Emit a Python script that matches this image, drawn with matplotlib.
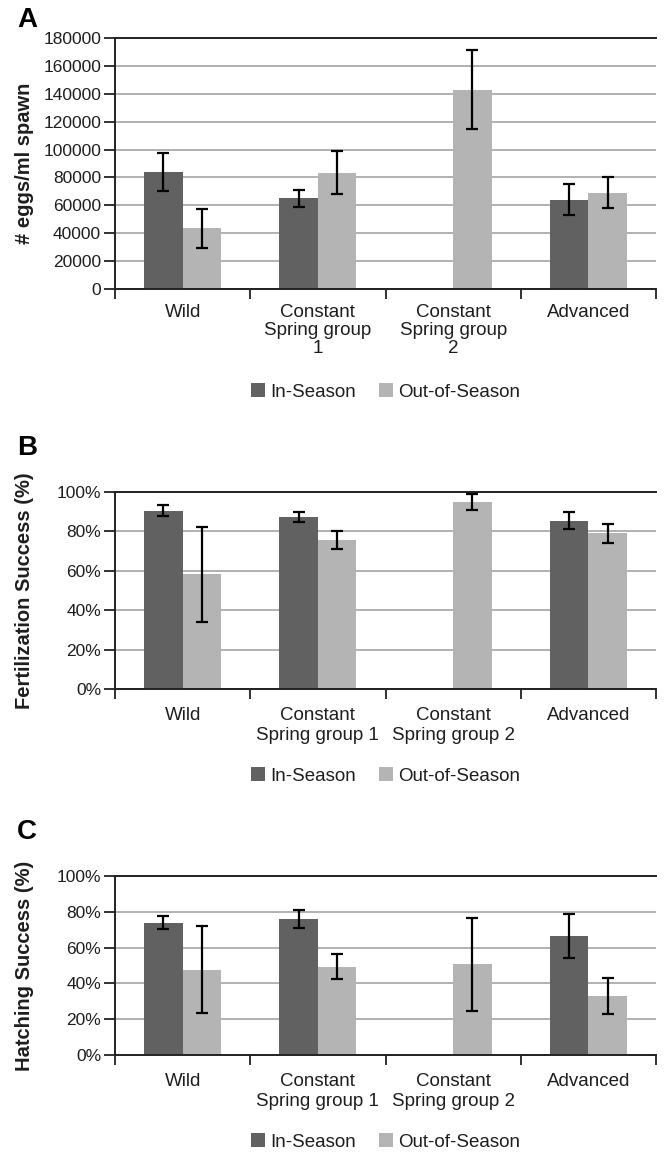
import matplotlib
matplotlib.use("Agg")
import matplotlib.pyplot as plt
import numpy as np
from matplotlib.ticker import FuncFormatter, FixedLocator

plt.rcParams['font.family'] = ['Liberation Sans', 'DejaVu Sans']

categories_A = ["Wild", "Constant\nSpring group\n1", "Constant\nSpring group\n2", "Advanced"]
categories_BC = ["Wild", "Constant\nSpring group 1", "Constant\nSpring group 2", "Advanced"]
series = ["In-Season", "Out-of-Season"]

eggs_in = [84000, 65000, np.nan, 64000]
eggs_in_err = [13500, 6300, np.nan, 11200]
eggs_out = [43700, 83500, 143000, 69200]
eggs_out_err = [14000, 15400, 28300, 10800]

fert_in = [90.6, 87.3, np.nan, 85.3]
fert_in_err = [2.7, 2.7, np.nan, 4.3]
fert_out = [58.2, 75.6, 95.0, 79.0]
fert_out_err = [24.0, 4.4, 4.1, 5.0]

hatch_in = [73.9, 75.8, np.nan, 66.4]
hatch_in_err = [3.7, 5.0, np.nan, 12.4]
hatch_out = [47.7, 49.2, 50.8, 33.0]
hatch_out_err = [24.3, 7.0, 26.0, 10.0]

DARK = "#616161"
LIGHT = "#b4b4b4"
TXT = "#1e1e1e"

W, H = 664, 1153
fig = plt.figure(figsize=(W / 100, H / 100), dpi=100)

def fx(px):
    return px / W

def fy(py):
    return 1 - py / H

panels = [
    dict(letter="A", top=38, bot=289, cats=categories_A, vin=eggs_in, ein=eggs_in_err,
         vout=eggs_out, eout=eggs_out_err, ymax=180000, step=20000, pct=False,
         ylabel="# eggs/ml spawn", legy=392, lety=20, ls=1.05, pad=11),
    dict(letter="B", top=492, bot=689, cats=categories_BC, vin=fert_in, ein=fert_in_err,
         vout=fert_out, eout=fert_out_err, ymax=100, step=20, pct=True,
         ylabel="Fertilization Success (%)", legy=776, lety=448, ls=1.25, pad=13),
    dict(letter="C", top=876, bot=1055, cats=categories_BC, vin=hatch_in, ein=hatch_in_err,
         vout=hatch_out, eout=hatch_out_err, ymax=100, step=20, pct=True,
         ylabel="Hatching Success (%)", legy=1142, lety=832, ls=1.25, pad=13),
]

L, R = 115, 656
bw = 0.285
for p in panels:
    ax = fig.add_axes([fx(L), fy(p["bot"]), fx(R - L), (p["bot"] - p["top"]) / H])
    x = np.arange(len(p["cats"])) + 0.5
    b1 = ax.bar(x - bw / 2, p["vin"], bw, color=DARK, zorder=2, label=series[0])
    b2 = ax.bar(x + bw / 2, p["vout"], bw, color=LIGHT, zorder=2, label=series[1])
    ax.errorbar(x - bw / 2, p["vin"], yerr=p["ein"], fmt="none", ecolor="black",
                elinewidth=1.6, capsize=4.5, capthick=1.6, zorder=3)
    ax.errorbar(x + bw / 2, p["vout"], yerr=p["eout"], fmt="none", ecolor="black",
                elinewidth=1.6, capsize=4.5, capthick=1.6, zorder=3)
    ax.set_xlim(0, 4)
    ax.set_ylim(0, p["ymax"])
    ticks = np.arange(0, p["ymax"] + p["step"] / 2, p["step"])
    ax.set_yticks(ticks)
    if p["pct"]:
        ax.yaxis.set_major_formatter(FuncFormatter(lambda v, _: f"{int(round(v))}%"))
    else:
        ax.yaxis.set_major_formatter(FuncFormatter(lambda v, _: f"{int(round(v))}"))
    ax.yaxis.grid(True, color="#ababab", linewidth=1.3, zorder=0)
    ax.set_axisbelow(True)
    ax.set_xticks(x)
    ax.set_xticklabels(p["cats"], fontsize=13.5, color=TXT, linespacing=p["ls"])
    ax.xaxis.set_minor_locator(FixedLocator([0, 1, 2, 3, 4]))
    ax.tick_params(axis="x", which="major", length=0, pad=p["pad"])
    ax.tick_params(axis="x", which="minor", length=7, width=1.3, color="#222222", direction="out")
    ax.tick_params(axis="y", length=8, width=1.3, color="#222222", labelsize=12.5,
                   labelcolor=TXT, pad=2)
    ax.spines["right"].set_visible(False)
    for s in ["left", "bottom", "top"]:
        ax.spines[s].set_color("#222222")
        ax.spines[s].set_linewidth(1.4)
    fig.text(fx(25), (fy(p["top"]) + fy(p["bot"])) / 2, p["ylabel"], rotation=90,
             ha="center", va="center", fontsize=14.5, fontweight="bold", color=TXT)
    fig.text(fx(27), fy(p["lety"]), p["letter"], ha="center", va="center",
             fontsize=20, fontweight="bold", color="black")
    ax.legend(handles=[b1, b2], loc="center", bbox_to_anchor=(fx((L + R) / 2), fy(p["legy"])),
              bbox_transform=fig.transFigure, ncol=2, frameon=False, fontsize=13.5,
              handlelength=0.75, handleheight=0.75, handletextpad=0.3, columnspacing=1.2,
              labelcolor=TXT, borderpad=0, borderaxespad=0)

fig.savefig("out.png", dpi=100)
